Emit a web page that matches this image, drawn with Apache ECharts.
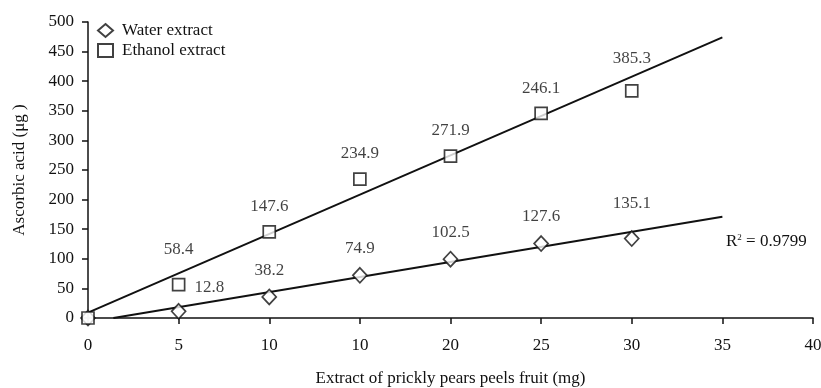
<!DOCTYPE html>
<html>
<head>
<meta charset="utf-8">
<script src="https://cdn.jsdelivr.net/npm/echarts@6/dist/echarts.min.js"></script>
<style>
  html, body { margin:0; padding:0; background:#fff; }
  #chart { width:821px; height:388px; }
</style>
</head>
<body>
<div id="chart"></div>
<script type="text/javascript">
// 数据 -------------------
var xValues = [0, 5, 10, 15, 20, 25, 30];
var xTickLabels = ['0', '5', '10', '10', '20', '25', '30', '35', '40'];
var waterValues = [0, 11.3, 35.5, 72.2, 99.3, 125.8, 134.2];
var waterLabels = ['', '12.8', '38.2', '74.9', '102.5', '127.6', '135.1'];
var ethanolValues = [0, 56.5, 145.4, 234.5, 273.4, 345.6, 383.8];
var ethanolLabels = ['', '58.4', '147.6', '234.9', '271.9', '246.1', '385.3'];
var waterTrendX = [1.4, 35];
var waterTrendY = [0, 171];
var ethanolTrendX = [0, 35];
var ethanolTrendY = [9, 474];

var font = 'Liberation Serif';
var ink = '#111';
var myChart = echarts.init(document.getElementById('chart'));

function pairs(xs, ys) {
	return xs.map(function (x, i) { return [x, ys[i]]; });
}
// 标注位置微调
function pointData(ys, extra) {
	return ys.map(function (y, i) {
		var item = { value: [xValues[i], y] };
		if (extra[i]) item.label = extra[i];
		return item;
	});
}

var option = {
	animation: false,
	grid: { left: 88, right: 8, top: 22, bottom: 70, outerBoundsMode: 'none', containLabel: false },
	legend: {
		left: 92, top: 17,
		orient: 'vertical',
		itemGap: 3,
		itemWidth: 15, itemHeight: 13,
		textStyle: { fontFamily: font, fontSize: 17, color: ink, padding: [0, 0, 0, 4] },
		data: [
			{ name: 'Water extract', icon: 'diamond' },
			{ name: 'Ethanol extract', icon: 'rect' }
		]
	},
	xAxis: {
		type: 'value', min: 0, max: 40, interval: 5,
		name: 'Extract of prickly pears peels fruit (mg)',
		nameLocation: 'middle', nameGap: 52,
		nameTextStyle: { fontFamily: font, fontSize: 17, color: ink },
		axisLine: { lineStyle: { color: ink, width: 1.5 } },
		axisTick: { length: 6, lineStyle: { color: ink, width: 1.5 } },
		axisLabel: {
			fontFamily: font, fontSize: 17, color: ink, margin: 19,
			formatter: function (v) { return xTickLabels[Math.round(v / 5)]; }
		},
		splitLine: { show: false }
	},
	yAxis: {
		type: 'value', min: 0, max: 500, interval: 50,
		name: 'Ascorbic acid (\u03bcg )',
		nameLocation: 'middle', nameGap: 60,
		nameTextStyle: { fontFamily: font, fontSize: 17, color: ink },
		axisLine: { show: true, lineStyle: { color: ink, width: 1.5 } },
		axisTick: { show: true, length: 6, lineStyle: { color: ink, width: 1.5 } },
		axisLabel: { fontFamily: font, fontSize: 17, color: ink, margin: 14 },
		splitLine: { show: false }
	},
	graphic: [{
		type: 'text', left: 726, top: 233,
		style: {
			text: '{b|R}{s|2}{b| = 0.9799}',
			rich: {
				b: { fontFamily: font, fontSize: 17, fill: ink },
				s: { fontFamily: font, fontSize: 9, fill: ink, verticalAlign: 'top', padding: [0, 0, 9, 0] }
			}
		}
	}],
	series: [
		{
			name: 'ethanolTrend', type: 'line', data: pairs(ethanolTrendX, ethanolTrendY),
			symbol: 'none', lineStyle: { color: ink, width: 2 }, silent: true, z: 1
		},
		{
			name: 'waterTrend', type: 'line', data: pairs(waterTrendX, waterTrendY),
			symbol: 'none', lineStyle: { color: ink, width: 2 }, silent: true, z: 1
		},
		{
			name: 'Water extract', type: 'scatter', symbol: 'diamond', symbolSize: [14, 15],
			itemStyle: { color: '#fff', borderColor: ink, borderWidth: 1.7 },
			label: {
				show: true, position: 'top', distance: 10,
				fontFamily: font, fontSize: 17, color: ink,
				formatter: function (p) { return waterLabels[p.dataIndex]; }
			},
			data: pointData(waterValues, {
				1: { position: 'right', distance: 8, offset: [0, -24] },
				6: { distance: 18 }
			}),
			z: 3
		},
		{
			name: 'Ethanol extract', type: 'scatter', symbol: 'rect', symbolSize: 12,
			itemStyle: { color: '#fff', borderColor: ink, borderWidth: 1.7 },
			label: {
				show: true, position: 'top', distance: 10,
				fontFamily: font, fontSize: 17, color: ink,
				formatter: function (p) { return ethanolLabels[p.dataIndex]; }
			},
			data: pointData(ethanolValues, {
				1: { distance: 20 },
				6: { distance: 17 }
			}),
			z: 4
		}
	]
};
myChart.setOption(option);
</script>
</body>
</html>
